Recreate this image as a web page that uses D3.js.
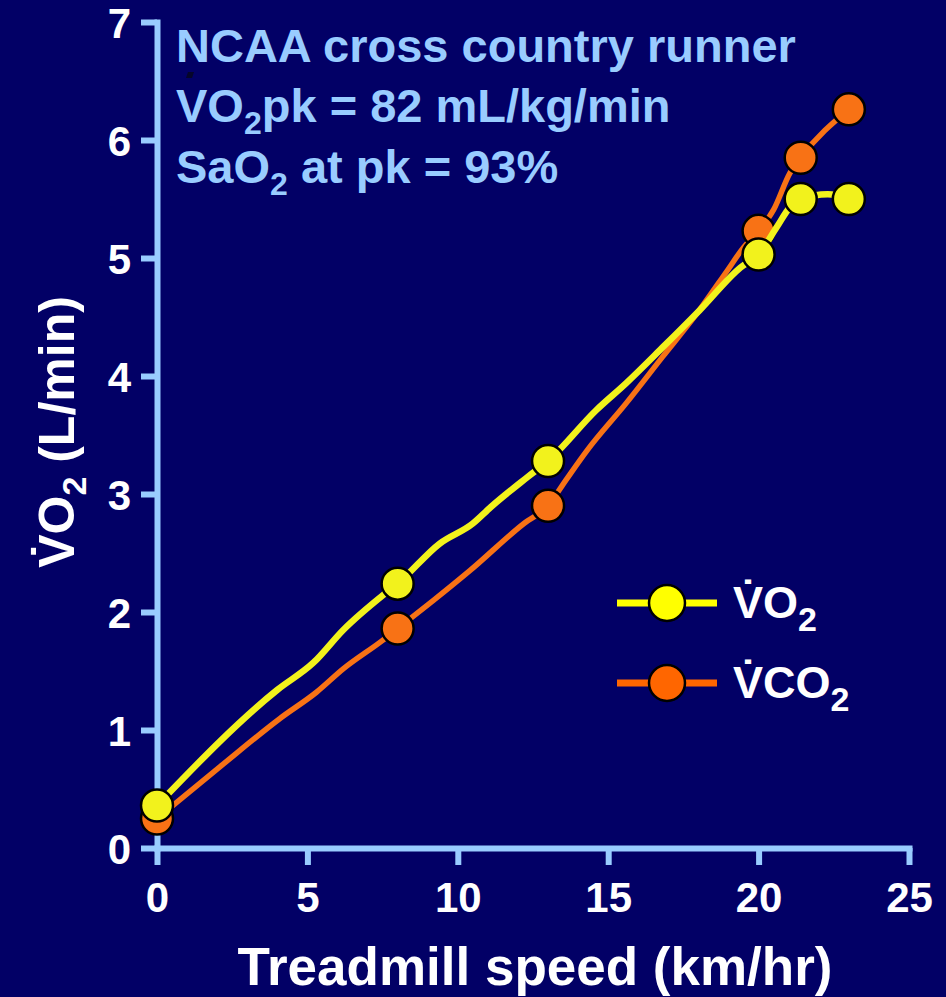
<!DOCTYPE html>
<html>
<head>
<meta charset="utf-8">
<script src="https://cdn.jsdelivr.net/npm/d3@7"></script>
<style>
  html, body { margin: 0; padding: 0; background: #020066; }
  svg { display: block; }
  text { font-family: "Liberation Sans", Arial, Helvetica, sans-serif; font-weight: bold; }
</style>
</head>
<body>
<svg id="chart" width="946" height="997"></svg>
<script>
// Stage markers (treadmill speed, km/hr)
const stageSpeed = [0, 8, 13, 20, 21.4, 23];
const vo2Stage = [0.36, 2.24, 3.28, 5.03, 5.50, 5.50];
const vco2Stage = [0.25, 1.86, 2.90, 5.23, 5.85, 6.26];

// Continuous gas-exchange traces
const vo2TraceSpeed = [0, 4.0, 5.2, 6.2, 7.5, 8, 9.4, 10.5, 11.1, 12.3, 13, 14.6, 15.6, 16.8, 18.05, 19.4, 20, 20.6, 21.04, 21.4, 22.3, 23];
const vo2TraceValue = [0.36, 1.34, 1.57, 1.85, 2.14, 2.24, 2.58, 2.75, 2.89, 3.14, 3.28, 3.71, 3.94, 4.24, 4.56, 4.92, 5.03, 5.26, 5.43, 5.50, 5.54, 5.50];
const vco2TraceSpeed = [0, 2.1, 4.1, 5.3, 6.2, 7.5, 8, 9.2, 10.4, 12.2, 13, 13.6, 14.3, 15.6, 16.8, 17.95, 18.95, 19.5, 20, 20.5, 21.04, 21.4, 23];
const vco2TraceValue = [0.25, 0.69, 1.10, 1.32, 1.52, 1.76, 1.86, 2.10, 2.35, 2.75, 2.90, 3.12, 3.37, 3.77, 4.16, 4.53, 4.89, 5.09, 5.23, 5.41, 5.72, 5.85, 6.26];

const xTicks = [0, 5, 10, 15, 20, 25];
const yTicks = [0, 1, 2, 3, 4, 5, 6, 7];

const svg = d3.select("#chart");
const W = 946, H = 997;
svg.append("rect").attr("width", W).attr("height", H).attr("fill", "#020066");

const x = d3.scaleLinear().domain([0, 25]).range([157, 909]);
const y = d3.scaleLinear().domain([0, 7]).range([848, 22]);

const axisColor = "#99CCFF";

// Axes
const gx = svg.append("g").attr("transform", `translate(0,${y(0)})`)
  .call(d3.axisBottom(x).tickValues(xTicks).tickSizeInner(17).tickSizeOuter(0).tickPadding(17).tickFormat(d3.format("d")));
const gy = svg.append("g").attr("transform", `translate(${x(0)},0)`)
  .call(d3.axisLeft(y).tickValues(yTicks).tickSizeInner(16).tickSizeOuter(0).tickPadding(10).tickFormat(d3.format("d")));

[gx, gy].forEach(g => {
  g.select(".domain").style("stroke", axisColor).style("stroke-width", "6px").style("stroke-linecap", "square");
  g.selectAll(".tick line").style("stroke", axisColor).style("stroke-width", "6px");
  g.selectAll(".tick text").attr("fill", "#FFFFFF").attr("font-size", 42)
    .attr("font-family", "'Liberation Sans', Arial, sans-serif").attr("font-weight", "bold");
});
gx.selectAll(".tick text").attr("dy", "0.72em");
gy.selectAll(".tick text").attr("dy", "0.36em");

// Series
const series = [
  { speed: vco2TraceSpeed, value: vco2TraceValue, stage: vco2Stage, color: "#F87215", width: 5.5 },
  { speed: vo2TraceSpeed, value: vo2TraceValue, stage: vo2Stage, color: "#F2F21C", width: 6.5 }
];

const line = d3.line().x(d => x(d[0])).y(d => y(d[1])).curve(d3.curveMonotoneX);

series.forEach(s => {
  const pts = s.speed.map((v, i) => [v, s.value[i]]);
  svg.append("path").datum(pts)
    .attr("d", line)
    .attr("fill", "none")
    .attr("stroke", s.color)
    .attr("stroke-width", s.width)
    .attr("stroke-linejoin", "round");
  svg.append("g").selectAll("circle")
    .data(stageSpeed.map((v, i) => [v, s.stage[i]]))
    .join("circle")
    .attr("cx", d => x(d[0]))
    .attr("cy", d => y(d[1]))
    .attr("r", 16)
    .attr("fill", s.color)
    .attr("stroke", "#000000")
    .attr("stroke-width", 2.5);
});

// Annotation block
const note = svg.append("g").attr("fill", "#99CCFF").attr("font-size", 47);
note.append("text").attr("x", 176).attr("y", 62).text("NCAA cross country runner");
const l2 = note.append("text").attr("x", 176).attr("y", 122);
l2.append("tspan").text("VO");
l2.append("tspan").attr("font-size", 32).attr("dy", 12).text("2");
l2.append("tspan").attr("dy", -12).text("pk = 82 mL/kg/min");
// dark dot mark above the V
svg.append("path").attr("d", "M188,72 L194,72 L192,78 L186,78 Z").attr("fill", "#05052a");
const l3 = note.append("text").attr("x", 176).attr("y", 183);
l3.append("tspan").text("SaO");
l3.append("tspan").attr("font-size", 32).attr("dy", 12).text("2");
l3.append("tspan").attr("dy", -12).text(" at pk = 93%");

// Legend
const legendItems = [
  { label: "V\u0307O", sub: "2", color: "#FFFF00", yPos: 603 },
  { label: "V\u0307CO", sub: "2", color: "#FF6600", yPos: 683 }
];
const lg = svg.append("g");
legendItems.forEach(it => {
  lg.append("line").attr("x1", 617).attr("x2", 717).attr("y1", it.yPos).attr("y2", it.yPos)
    .attr("stroke", it.color).attr("stroke-width", 7);
  lg.append("circle").attr("cx", 667).attr("cy", it.yPos).attr("r", 18)
    .attr("fill", it.color).attr("stroke", "#000").attr("stroke-width", 2.5);
  const t = lg.append("text").attr("x", 733).attr("y", it.yPos + 15)
    .attr("fill", "#FFFFFF").attr("font-size", 45);
  t.append("tspan").text(it.label);
  t.append("tspan").attr("font-size", 34).attr("dy", 13).text(it.sub);
});

// Axis titles
svg.append("text").attr("x", 535).attr("y", 985).attr("text-anchor", "middle")
  .attr("fill", "#FFFFFF").attr("font-size", 53).text("Treadmill speed (km/hr)");

const yt = svg.append("text").attr("transform", "translate(74,432) rotate(-90)")
  .attr("text-anchor", "middle").attr("fill", "#FFFFFF").attr("font-size", 50);
yt.append("tspan").text("V\u0307O");
yt.append("tspan").attr("font-size", 34).attr("dy", 12).text("2");
yt.append("tspan").attr("dy", -12).text(" (L/min)");
</script>
</body>
</html>
